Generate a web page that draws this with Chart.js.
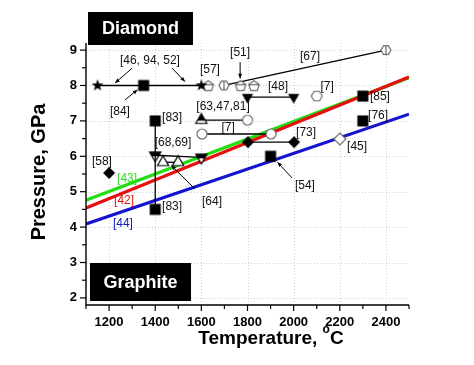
<!DOCTYPE html>
<html>
<head>
<meta charset="utf-8">
<script src="https://cdn.jsdelivr.net/npm/chart.js@4.4.1/dist/chart.umd.min.js"></script>
<style>
  html, body { margin: 0; padding: 0; background: #fff; }
</style>
</head>
<body>
<canvas id="chart" width="474" height="365"></canvas>
<script>
// axis ticks
const xTickValues = [1100, 1200, 1300, 1400, 1500, 1600, 1700, 1800, 1900, 2000, 2100, 2200, 2300, 2400, 2500];
const xTickLabels = ['1200', '1400', '1600', '1800', '2000', '2200', '2400'];
const yTickValues = [2, 2.5, 3, 3.5, 4, 4.5, 5, 5.5, 6, 6.5, 7, 7.5, 8, 8.5, 9];
const yTickLabels = ['2', '3', '4', '5', '6', '7', '8', '9'];

// graphite/diamond boundary lines [43] [42] [44]
const lineT = [1100, 2500];
const line43 = [4.76, 8.22];
const line42 = [4.54, 8.24];
const line44 = [4.09, 7.19];

// experimental points
const ref46T = [1150, 1600], ref46P = [8, 8];
const ref84T = [1350], ref84P = [8];
const ref57T = [1630], ref57P = [7.98];
const ref51T = [1770, 1828], ref51P = [7.98, 7.98];
const ref67T = [1698, 2400], ref67P = [8, 9];
const ref48T = [1800, 2000], ref48P = [7.67, 7.67];
const ref7aT = [2100], ref7aP = [7.7];
const ref85T = [2300], ref85P = [7.7];
const ref76T = [2300], ref76P = [7.0];
const ref83T = [1400, 1400], ref83P = [7.0, 4.5];
const ref54T = [1900], ref54P = [6.0];
const ref6869T = [1400, 1600], ref6869P = [6.03, 5.97];
const ref64T = [1434, 1499], ref64P = [5.83, 5.83];
const ref58T = [1200], ref58P = [5.53];
const ref63T = [1600, 1800], ref63P = [7.02, 7.02];
const ref7bT = [1603, 1902], ref7bP = [6.63, 6.63];
const ref73T = [1802, 2002], ref73P = [6.4, 6.4];
const ref45T = [2200], ref45P = [6.49];

// reference labels (data units)
const notes = [
  ['[46, 94, 52]', 1377, 8.69, '#111'],
  ['[84]', 1247, 7.25, '#111'],
  ['[57]', 1637, 8.44, '#111'],
  ['[51]', 1768, 8.92, '#111'],
  ['[67]', 2071, 8.8, '#111'],
  ['[48]', 1932, 7.96, '#111'],
  ['[7]', 2145, 7.96, '#111'],
  ['[85]', 2374, 7.67, '#111'],
  ['[83]', 1473, 7.08, '#111'],
  ['[76]', 2366, 7.14, '#111'],
  ['[63,47,81]', 1694, 7.39, '#111'],
  ['[7]', 1716, 6.8, '#111'],
  ['[68,69]', 1477, 6.38, '#111'],
  ['[58]', 1169, 5.84, '#111'],
  ['[43]', 1278, 5.36, '#33dd22'],
  ['[42]', 1265, 4.74, '#e01010'],
  ['[44]', 1260, 4.09, '#1020c0'],
  ['[83]', 1473, 4.57, '#111'],
  ['[64]', 1646, 4.71, '#111'],
  ['[73]', 2054, 6.66, '#111'],
  ['[54]', 2049, 5.16, '#111'],
  ['[45]', 2275, 6.26, '#111']
];
const arrows = [
  [1300, 8.49, 1226, 8.07],
  [1473, 8.49, 1529, 8.11],
  [1269, 7.59, 1323, 7.88],
  [1768, 8.66, 1768, 8.2],
  [1993, 5.39, 1930, 5.83],
  [1572, 5.08, 1470, 5.74]
];

const FONT = '"Liberation Sans", Arial, sans-serif';

function xy(ts, ps) {
  return ts.map((t, i) => ({ x: t, y: ps[i] }));
}

// marker images
function marker(kind) {
  const s = 16;
  const c = document.createElement('canvas');
  c.width = s; c.height = s;
  const g = c.getContext('2d');
  g.translate(s / 2, s / 2);
  g.lineWidth = 1.2;
  const poly = (n, r, rot) => {
    g.beginPath();
    for (let i = 0; i < n; i++) {
      const a = rot + i * 2 * Math.PI / n;
      g.lineTo(r * Math.cos(a), r * Math.sin(a));
    }
    g.closePath();
  };
  const gray = '#6a6a6a';
  if (kind === 'star') {
    g.beginPath();
    for (let i = 0; i < 10; i++) {
      const r = i % 2 ? 2.6 : 6.2;
      const a = -Math.PI / 2 + i * Math.PI / 5;
      g.lineTo(r * Math.cos(a), r * Math.sin(a));
    }
    g.closePath();
    g.fillStyle = '#000'; g.fill();
  } else if (kind === 'square') {
    g.fillStyle = '#000'; g.fillRect(-5.5, -5.5, 11, 11);
  } else if (kind === 'pentagon') {
    poly(5, 5.5, -Math.PI / 2);
    g.fillStyle = '#fff'; g.fill(); g.strokeStyle = gray; g.stroke();
    g.beginPath(); g.moveTo(-5, -1.5); g.lineTo(5, -1.5); g.stroke();
  } else if (kind === 'hexCross') {
    poly(6, 5, 0);
    g.fillStyle = '#fff'; g.fill(); g.strokeStyle = gray; g.stroke();
    g.beginPath(); g.moveTo(0, -5); g.lineTo(0, 5); g.stroke();
  } else if (kind === 'hexOpen') {
    poly(6, 5.5, 0);
    g.fillStyle = '#fff'; g.fill(); g.strokeStyle = gray; g.stroke();
  } else if (kind === 'triDown') {
    poly(3, 6.5, Math.PI / 2);
    g.fillStyle = '#000'; g.fill();
  } else if (kind === 'triDownHalf') {
    poly(3, 6.5, Math.PI / 2);
    g.fillStyle = '#fff'; g.fill();
    g.save(); g.clip(); g.fillStyle = '#000'; g.fillRect(-8, -8, 16, 9); g.restore();
    g.strokeStyle = '#000'; g.stroke();
  } else if (kind === 'triUpOpen') {
    poly(3, 6.5, -Math.PI / 2);
    g.fillStyle = '#fff'; g.fill(); g.strokeStyle = '#000'; g.stroke();
  } else if (kind === 'triUpHalf') {
    poly(3, 6.5, -Math.PI / 2);
    g.fillStyle = '#fff'; g.fill();
    g.save(); g.clip(); g.fillStyle = '#000'; g.fillRect(-8, -8, 16, 8.5); g.restore();
    g.strokeStyle = '#000'; g.stroke();
  } else if (kind === 'diamond') {
    poly(4, 6, -Math.PI / 2);
    g.fillStyle = '#000'; g.fill();
  } else if (kind === 'diamondOpen') {
    poly(4, 6, -Math.PI / 2);
    g.fillStyle = '#fff'; g.fill(); g.strokeStyle = gray; g.stroke();
  } else if (kind === 'circleOpen') {
    g.beginPath(); g.arc(0, 0, 5, 0, 2 * Math.PI);
    g.fillStyle = '#fff'; g.fill(); g.strokeStyle = gray; g.stroke();
  }
  return c;
}

const M = {};
['star', 'square', 'pentagon', 'hexCross', 'hexOpen', 'triDown', 'triDownHalf', 'triUpOpen',
 'triUpHalf', 'diamond', 'diamondOpen', 'circleOpen'].forEach(k => { M[k] = marker(k); });

function boundary(ps, color, order) {
  return {
    data: xy(lineT, ps), showLine: true, borderColor: color, borderWidth: 3.2,
    pointRadius: 0, order: order
  };
}
function series(ts, ps, style, joined) {
  return {
    data: xy(ts, ps), showLine: !!joined, borderColor: '#000', borderWidth: 1.3,
    pointStyle: style, pointRadius: 6, order: 1
  };
}

const datasets = [
  boundary(line43, '#22dd11', 12),
  boundary(line42, '#e61010', 11),
  boundary(line44, '#1414d0', 10),
  series(ref46T, ref46P, M.star, true),
  series(ref84T, ref84P, M.square),
  series(ref57T, ref57P, M.pentagon),
  series(ref51T, ref51P, M.pentagon),
  series(ref67T, ref67P, M.hexCross, true),
  series(ref48T, ref48P, M.triDown, true),
  series(ref7aT, ref7aP, M.hexOpen),
  series(ref85T, ref85P, M.square),
  series(ref76T, ref76P, M.square),
  series(ref83T, ref83P, M.square, true),
  series(ref54T, ref54P, M.square),
  series(ref6869T, ref6869P, M.triDownHalf, true),
  series(ref64T, ref64P, M.triUpOpen, true),
  series(ref58T, ref58P, M.diamond),
  series(ref63T, ref63P, [M.triUpHalf, M.circleOpen], true),
  series(ref7bT, ref7bP, M.circleOpen, true),
  series(ref73T, ref73P, M.diamond, true),
  series(ref45T, ref45P, M.diamondOpen)
];

// grid, axes, ticks, boxes, labels, titles
const extras = {
  id: 'extras',
  beforeDatasetsDraw(chart) {
    const { ctx, chartArea: a, scales: { x, y } } = chart;
    ctx.save();
    ctx.strokeStyle = '#c9cfe2';
    ctx.lineWidth = 1;
    ctx.setLineDash([1, 2]);
    xTickLabels.forEach(v => {
      const px = Math.round(x.getPixelForValue(+v)) + 0.5;
      ctx.beginPath(); ctx.moveTo(px, a.top); ctx.lineTo(px, a.bottom); ctx.stroke();
    });
    yTickLabels.forEach(v => {
      const py = Math.round(y.getPixelForValue(+v)) + 0.5;
      ctx.beginPath(); ctx.moveTo(a.left, py); ctx.lineTo(a.right, py); ctx.stroke();
    });
    ctx.restore();
  },
  afterDatasetsDraw(chart) {
    const { ctx, chartArea: a, scales: { x, y } } = chart;
    const px = t => x.getPixelForValue(t);
    const py = p => y.getPixelForValue(p);
    ctx.save();

    // axis lines and tick marks
    ctx.strokeStyle = '#000';
    ctx.lineWidth = 1.4;
    ctx.beginPath();
    ctx.moveTo(a.left, a.top); ctx.lineTo(a.left, a.bottom); ctx.lineTo(a.right, a.bottom);
    ctx.stroke();
    ctx.lineWidth = 1.2;
    xTickValues.forEach(v => {
      const len = xTickLabels.includes(String(v)) ? 6 : 4;
      const p = px(v);
      ctx.beginPath(); ctx.moveTo(p, a.bottom); ctx.lineTo(p, a.bottom + len); ctx.stroke();
    });
    yTickValues.forEach(v => {
      const len = yTickLabels.includes(String(v)) ? 6 : 4;
      const p = py(v);
      ctx.beginPath(); ctx.moveTo(a.left, p); ctx.lineTo(a.left - len, p); ctx.stroke();
    });

    // arrows
    ctx.lineWidth = 1;
    ctx.fillStyle = '#000';
    arrows.forEach(([t1, p1, t2, p2]) => {
      const x1 = px(t1), y1 = py(p1), x2 = px(t2), y2 = py(p2);
      const ang = Math.atan2(y2 - y1, x2 - x1);
      ctx.beginPath(); ctx.moveTo(x1, y1); ctx.lineTo(x2, y2); ctx.stroke();
      ctx.beginPath();
      ctx.moveTo(x2, y2);
      ctx.lineTo(x2 - 5 * Math.cos(ang - 0.4), y2 - 5 * Math.sin(ang - 0.4));
      ctx.lineTo(x2 - 5 * Math.cos(ang + 0.4), y2 - 5 * Math.sin(ang + 0.4));
      ctx.closePath(); ctx.fill();
    });

    // reference labels
    ctx.font = '12px ' + FONT;
    ctx.textAlign = 'center';
    ctx.textBaseline = 'middle';
    notes.forEach(([txt, t, p, col]) => {
      ctx.fillStyle = col;
      ctx.fillText(txt, px(t), py(p));
    });

    // phase boxes
    ctx.fillStyle = '#000';
    ctx.fillRect(88, 12, 105, 33);
    ctx.fillRect(90, 263, 101, 38);
    ctx.fillStyle = '#fff';
    ctx.font = 'bold 18px ' + FONT;
    ctx.fillText('Diamond', 140.5, 29);
    ctx.fillText('Graphite', 140.5, 283);

    // axis titles
    ctx.fillStyle = '#000';
    ctx.font = 'bold 20px ' + FONT;
    ctx.save();
    ctx.translate(39, 172);
    ctx.rotate(-Math.PI / 2);
    ctx.fillText('Pressure, GPa', 0, 0);
    ctx.restore();

    ctx.textAlign = 'left';
    ctx.textBaseline = 'alphabetic';
    ctx.font = 'bold 19px ' + FONT;
    const part1 = 'Temperature, ';
    const w1 = ctx.measureText(part1).width;
    ctx.font = 'bold 12px ' + FONT;
    const wo = ctx.measureText('o').width;
    ctx.font = 'bold 19px ' + FONT;
    const wc = ctx.measureText('C').width;
    let sx = 271 - (w1 + wo + wc) / 2;
    ctx.fillText(part1, sx, 344);
    ctx.font = 'bold 12px ' + FONT;
    ctx.fillText('o', sx + w1, 333);
    ctx.font = 'bold 19px ' + FONT;
    ctx.fillText('C', sx + w1 + wo, 344);

    ctx.restore();
  }
};

new Chart(document.getElementById('chart'), {
  type: 'scatter',
  data: { datasets: datasets },
  options: {
    responsive: false,
    animation: false,
    devicePixelRatio: 1,
    layout: { padding: { left: 0, right: 65, top: 43, bottom: 0 } },
    plugins: { legend: { display: false }, tooltip: { enabled: false } },
    scales: {
      x: {
        type: 'linear', min: 1100, max: 2500,
        afterBuildTicks: s => { s.ticks = xTickValues.map(v => ({ value: v })); },
        afterFit: s => { s.height = 60; },
        grid: { display: false, drawTicks: false },
        border: { display: false },
        ticks: {
          autoSkip: false, maxRotation: 0, padding: 10, color: '#000',
          font: { family: FONT, size: 13, weight: 'bold' },
          callback: v => xTickLabels.includes(String(v)) ? String(v) : ''
        }
      },
      y: {
        type: 'linear', min: 1.8, max: 9.2,
        afterBuildTicks: s => { s.ticks = yTickValues.map(v => ({ value: v })); },
        afterFit: s => { s.width = 86; },
        grid: { display: false, drawTicks: false },
        border: { display: false },
        ticks: {
          autoSkip: false, padding: 9, color: '#000',
          font: { family: FONT, size: 13, weight: 'bold' },
          callback: v => yTickLabels.includes(String(v)) ? String(v) : ''
        }
      }
    }
  },
  plugins: [extras]
});
</script>
</body>
</html>
